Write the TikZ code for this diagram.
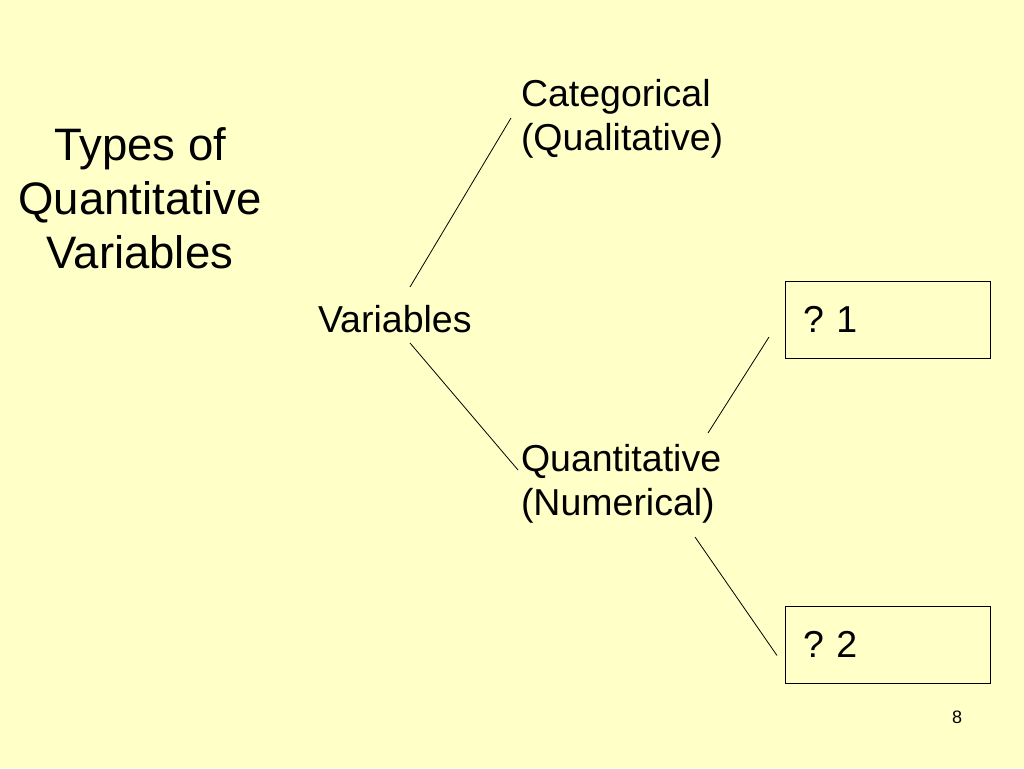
\documentclass[tikz,border=0pt]{standalone}
\usepackage{fontspec}
\setmainfont{Liberation Sans}
\usetikzlibrary{positioning,calc}
\definecolor{slideyellow}{RGB}{255,255,200}
\tikzset{
  slidepic/.style={
    x=1pt,y=-1pt
    ,inner sep=0pt
    ,outer sep=0pt
  }
  ,title/.style={align=center,font={\fontsize{45.5}{54}\selectfont}}
  ,branch/.style={align=left,anchor=base west,font={\fontsize{37.5}{43.5}\selectfont}}
  ,answerbox/.style={draw=black,line width=.8pt
    ,anchor=north west
    ,minimum width=205pt,minimum height=77pt
    ,text width=169pt,inner xsep=17pt
    ,align=left
    ,font={\fontsize{37.5}{44}\selectfont\frenchspacing}
  }
  ,twig/.style={draw=black,line width=.8pt}
  ,pagenum/.style={anchor=base,font={\fontsize{18}{20}\selectfont}}
}
\begin{document}
\begin{tikzpicture}[slidepic]
    % slide background
    \useasboundingbox[fill=slideyellow] (0,0) rectangle (1024,768);
    % title
    \node[title] (ttl) at (140,198) {Types of\\Quantitative\\Variables};
    % tree (base = last line)
    \node[branch] (vars) at (318,332) {Variables};
    \node[branch] (cat) at (521,150) {Categorical\\(Qualitative)};
    \node[branch] (quant) at (521,515) {Quantitative\\(Numerical)};
    \node[answerbox] (q1) at (785,281) {? 1};
    \node[answerbox] (q2) at (785,606) {? 2};
    \node[pagenum] (pg) at (957,723) {8};
    % line ends
    \coordinate (varsup) at ($(vars.base west)+(92,-45)$);
    \coordinate (varsdn) at ($(vars.base west)+(92,11)$);
    \coordinate (catin) at ($(cat.base west)+(-10,-32)$);
    \coordinate (quantin) at ($(quant.base west)+(-3,-45)$);
    \coordinate (quantup) at ($(quant.base west)+(187,-82)$);
    \coordinate (quantdn) at ($(quant.base west)+(174,22)$);
    \coordinate (qonein) at ($(q1.west)+(-16,17.5)$);
    \coordinate (qtwoin) at ($(q2.west)+(-8,11)$);
    \draw[twig] (varsup) -- (catin);
    \draw[twig] (varsdn) -- (quantin);
    \draw[twig] (quantup) -- (qonein);
    \draw[twig] (quantdn) -- (qtwoin);
  \end{tikzpicture}
\end{document}
